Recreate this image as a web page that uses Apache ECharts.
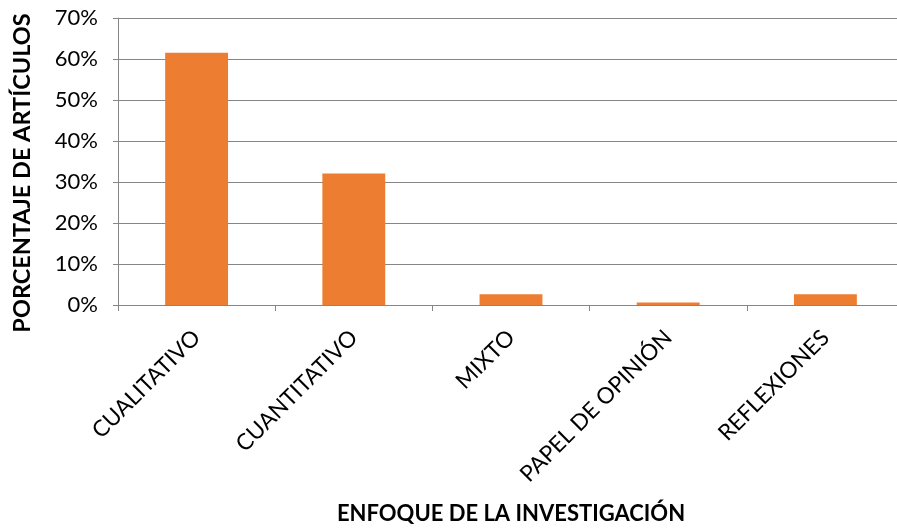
<!DOCTYPE html>
<html>
<head>
<meta charset="utf-8">
<script src="https://cdn.jsdelivr.net/npm/echarts@6/dist/echarts.min.js"></script>
<style>
  html, body { margin: 0; padding: 0; background: #fff; }
  #chart { width: 897px; height: 529px; }
</style>
</head>
<body>
<div id="chart"></div>
<script>
// categorías y porcentajes
const categories = ['CUALITATIVO', 'CUANTITATIVO', 'MIXTO', 'PAPEL DE OPINIÓN', 'REFLEXIONES'];
const percentages = [61.5, 32.1, 2.6, 0.6, 2.6];
const yTicks = [0, 10, 20, 30, 40, 50, 60, 70];

const chart = echarts.init(document.getElementById('chart'));

const font = 'Lato, "Open Sans", sans-serif';

const option = {
  animation: false,
  grid: {
    left: 118,
    right: -7,
    top: 18,
    bottom: 224,
    outerBoundsMode: 'none',
    containLabel: false
  },
  xAxis: {
    type: 'category',
    data: categories,
    name: 'ENFOQUE DE LA INVESTIGACIÓN',
    nameLocation: 'middle',
    nameGap: 198,
    nameTextStyle: { fontFamily: font, fontWeight: 'bold', fontSize: 22, color: '#000' },
    axisLine: { lineStyle: { color: '#868686', width: 1 } },
    axisTick: { show: true, length: 6, lineStyle: { color: '#868686' } },
    axisLabel: {
      rotate: 45,
      margin: 29,
      fontFamily: font,
      fontSize: 22.5,
      color: '#000'
    }
  },
  yAxis: {
    type: 'value',
    min: yTicks[0],
    max: yTicks[yTicks.length - 1],
    interval: 10,
    axisLine: { show: true, lineStyle: { color: '#868686', width: 1 } },
    axisTick: { show: true, length: 5, lineStyle: { color: '#868686' } },
    splitLine: { lineStyle: { color: '#868686', width: 1 } },
    axisLabel: {
      formatter: '{value}%',
      margin: 20,
      fontFamily: font,
      fontSize: 22,
      color: '#000'
    }
  },
  graphic: [
    {
      type: 'text',
      x: 22,
      y: 173,
      rotation: Math.PI / 2,
      style: {
        text: 'PORCENTAJE DE ARTÍCULOS',
        fontFamily: font,
        fontWeight: 'bold',
        fontSize: 23.5,
        fill: '#000',
        align: 'center',
        verticalAlign: 'middle'
      }
    }
  ],
  series: [
    {
      type: 'bar',
      data: percentages,
      barWidth: '40%',
      itemStyle: { color: '#ED7D31' }
    }
  ]
};

chart.setOption(option);
</script>
</body>
</html>
